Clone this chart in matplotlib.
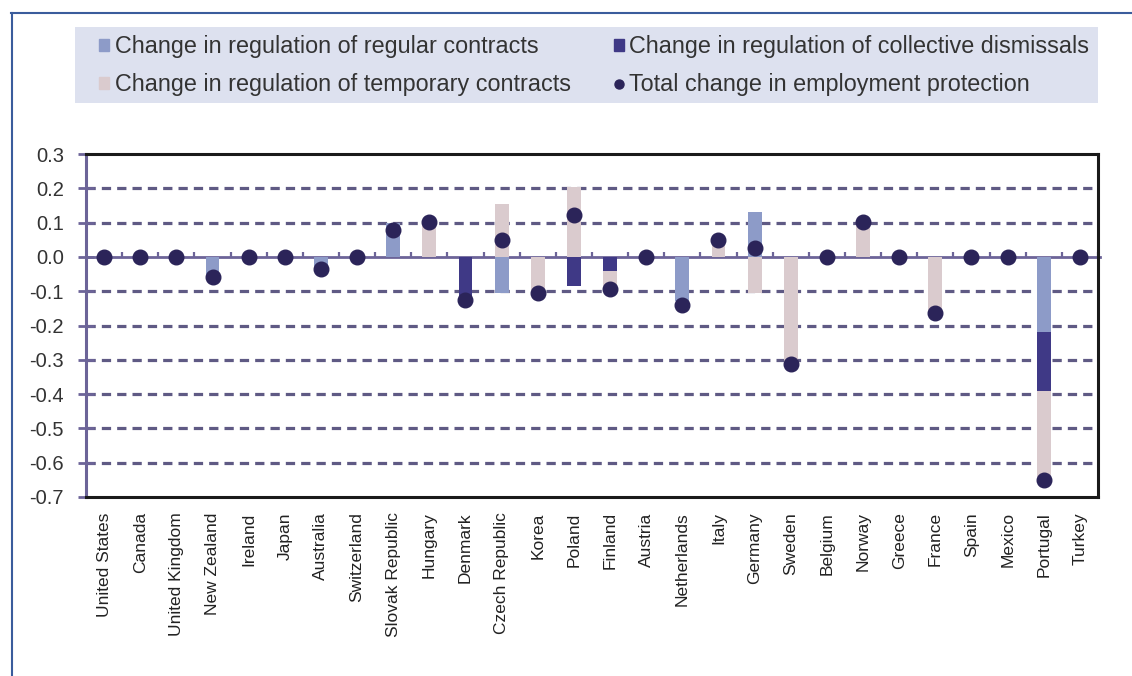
import numpy as np
import matplotlib
matplotlib.use("Agg")
import matplotlib.pyplot as plt
from matplotlib.patches import Patch, Rectangle
from matplotlib.lines import Line2D

plt.rcParams['font.family'] = ['Liberation Sans', 'DejaVu Sans']

countries = ["United States", "Canada", "United Kingdom", "New Zealand", "Ireland",
             "Japan", "Australia", "Switzerland", "Slovak Republic", "Hungary",
             "Denmark", "Czech Republic", "Korea", "Poland", "Finland", "Austria",
             "Netherlands", "Italy", "Germany", "Sweden", "Belgium", "Norway",
             "Greece", "France", "Spain", "Mexico", "Portugal", "Turkey"]
regular = [0, 0, 0, -0.06, 0, 0, -0.03, 0, 0.10, 0,
           0, -0.105, 0, 0, 0, 0, -0.13, 0, 0.13, 0,
           0, 0, 0, 0, 0, 0, -0.22, 0]
collective = [0, 0, 0, 0, 0, 0, 0, 0, 0, 0,
              -0.12, 0, 0, -0.085, -0.04, 0, 0, 0, 0, 0,
              0, 0, 0, 0, 0, 0, -0.17, 0]
temporary = [0, 0, 0, 0, 0, 0, 0, 0, 0, 0.10,
             0, 0.155, -0.10, 0.205, -0.05, 0, 0, 0.05, -0.105, -0.31,
             0, 0.10, 0, -0.16, 0, 0, -0.26, 0]
total = [0, 0, 0, -0.058, 0, 0, -0.035, 0, 0.078, 0.102,
         -0.125, 0.05, -0.105, 0.123, -0.093, 0, -0.14, 0.05, 0.027, -0.313,
         0, 0.102, 0, -0.165, 0, 0, -0.65, 0]
yticks = [0.3, 0.2, 0.1, 0.0, -0.1, -0.2, -0.3, -0.4, -0.5, -0.6, -0.7]

c_reg = "#8D9BC8"
c_col = "#3F3986"
c_tmp = "#DACBCE"
c_dot = "#2B2459"
c_grid = "#5F5A84"
c_left = "#6C6498"

fig = plt.figure(figsize=(11.32, 6.76), dpi=100)
fig.patch.set_facecolor("white")
W, H = 1132, 676
ax = fig.add_axes([86 / W, 1 - 497 / H, (1098 - 86) / W, (497 - 154) / H])

x = np.arange(len(countries))
series = [(regular, c_reg), (collective, c_col), (temporary, c_tmp)]
pos_base = np.zeros(len(x))
neg_base = np.zeros(len(x))
bw = 0.38
for vals, col in series:
    v = np.array(vals, dtype=float)
    pos = np.where(v > 0, v, 0)
    neg = np.where(v < 0, v, 0)
    ax.bar(x, pos, bw, bottom=pos_base, color=col, zorder=3, linewidth=0)
    ax.bar(x, neg, bw, bottom=neg_base, color=col, zorder=3, linewidth=0)
    pos_base += pos
    neg_base += neg

ax.plot(x, total, linestyle="none", marker="o", markersize=10.5,
        color=c_dot, zorder=5)

ax.set_xlim(-0.5, len(x) - 0.5)
ax.set_ylim(-0.7, 0.3)
ax.set_yticks(yticks)
ax.set_yticklabels([f"{t:.1f}" for t in yticks], fontsize=14.5, color="#333333")
for t in yticks:
    if -0.7 < t < 0.3 and t != 0:
        ax.axhline(t, color=c_grid, lw=2.3, linestyle=(0, (2.9, 1.9)), zorder=1)
ax.axhline(0, color=c_left, lw=2, zorder=2, xmax=1.002, clip_on=False)
# category separator ticks on zero line
ax.vlines(np.arange(len(x) + 1) - 0.5, 0, 0.013, color=c_left, lw=1.6, zorder=2)

ax.set_xticks(x)
ax.set_xticklabels(countries, rotation=90, fontsize=12.5, color="#222222")
ax.tick_params(axis="x", length=0, pad=11)
ax.tick_params(axis="y", direction="inout", length=12, width=2, color=c_left, pad=10)

for s in ["top", "right", "bottom"]:
    ax.spines[s].set_color("#1A1A1A")
    ax.spines[s].set_linewidth(2.2)
ax.spines["left"].set_color(c_left)
ax.spines["left"].set_linewidth(2.2)
ax.set_facecolor("white")

# legend background box
fig.patches.append(Rectangle((75 / W, 1 - 103 / H), (1098 - 75) / W, (103 - 27) / H,
                             transform=fig.transFigure, facecolor="#DDE1EF",
                             edgecolor="none", zorder=0))
handles = [Patch(color=c_reg), Patch(color=c_tmp), Patch(color=c_col),
           Line2D([], [], linestyle="none", marker="o", markersize=6.5, color=c_dot)]
labels = ["Change in regulation of regular contracts",
          "Change in regulation of temporary contracts",
          "Change in regulation of collective dismissals",
          "Total change in employment protection"]
fig.legend(handles, labels, ncol=2, loc="upper left",
           bbox_to_anchor=(99 / W, 1 - 35 / H), frameon=False, fontsize=16.8,
           borderpad=0, borderaxespad=0, handlelength=0.42, handleheight=0.42,
           handletextpad=0.25, columnspacing=1.85, labelspacing=0.66,
           labelcolor="#333333")

# outer frame
fig.add_artist(Line2D([11 / W, 1], [1 - 13 / H, 1 - 13 / H], transform=fig.transFigure,
                      color="#3A5C9C", lw=1.5))
fig.add_artist(Line2D([12 / W, 12 / W], [0, 1 - 13 / H], transform=fig.transFigure,
                      color="#3A5C9C", lw=1.5))

fig.savefig("out.png", dpi=100)
